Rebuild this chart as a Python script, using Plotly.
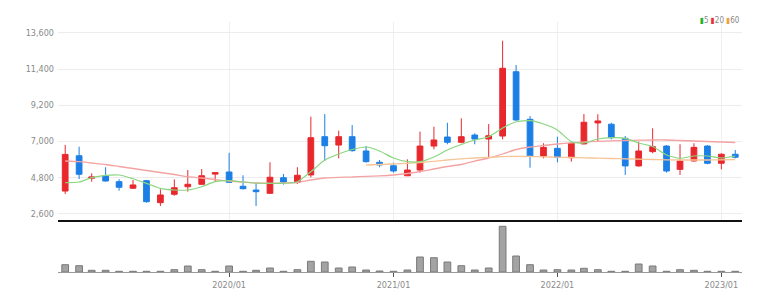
import plotly.graph_objects as go
import pandas as pd

# ---- data (monthly, 2019/01 .. 2023/02) ----
months = pd.date_range("2019-01-01", "2023-02-01", freq="MS").strftime("%Y-%m-%d").tolist()

open_ = [3970, 6120, 4750, 4890, 4540, 4140, 4600, 3260, 3770, 4230,
         4380, 5000, 5130, 4260, 4030, 3830, 4780, 4500, 4950, 7280,
         6770, 7280, 6410, 5720, 5510, 4900, 5250, 6710, 7260, 6940,
         7380, 7140, 7320, 11240, 8340, 6100, 6570, 6000, 6840, 8120,
         8040, 7180, 5500, 6370, 6710, 5290, 5800, 6710, 5660, 6210]
high = [6780, 6670, 5050, 5420, 4690, 4640, 4640, 4075, 4680, 5250,
        5310, 5100, 6300, 4930, 4480, 5720, 5010, 5420, 8500, 8660,
        7650, 7990, 6710, 5860, 5700, 5900, 7590, 7890, 8130, 8400,
        7490, 8050, 13130, 11650, 8540, 6880, 7280, 6920, 8660, 8650,
        8130, 7320, 6980, 7790, 6770, 6820, 6880, 6770, 6270, 6470]
low = [3790, 4700, 4540, 4540, 3990, 4090, 3260, 3060, 3680, 3930,
       4340, 4520, 4480, 4070, 3060, 3790, 4360, 4400, 4800, 5800,
       5960, 6370, 5700, 5420, 5090, 4880, 5090, 6510, 6820, 6880,
       6820, 6000, 7120, 8250, 5390, 5960, 5720, 5760, 6820, 6980,
       7120, 4950, 5450, 6270, 5090, 4950, 5760, 5600, 5290, 5960]
close = [6200, 4990, 4830, 4580, 4200, 4340, 3320, 3730, 4170, 4380,
         4900, 5090, 4500, 4110, 3930, 4810, 4520, 4930, 7220, 6730,
         7280, 6430, 5760, 5560, 5190, 5250, 6710, 7080, 6940, 7280,
         7140, 7340, 11450, 8300, 6100, 6630, 6030, 6880, 8160, 8240,
         7220, 5500, 6410, 6670, 5190, 5800, 6630, 5660, 6210, 6030]

ma5 = [4477, 4520, 4782, 4928, 4946, 4721, 4440, 4136, 4032, 4032,
       4233, 4538, 4599, 4520, 4459, 4440, 4440, 4538, 5147, 5860,
       6226, 6500, 6652, 6409, 5982, 5757, 5757, 6043, 6470, 6805,
       7079, 7280, 7811, 8194, 8255, 8054, 7689, 6976, 6896, 7140,
       7219, 7183, 6896, 6683, 6165, 5964, 6104, 6104, 5982, 6104]
ma20 = [5800, 5757, 5677, 5586, 5464, 5342, 5220, 5099, 4977, 4843,
        4763, 4672, 4581, 4520, 4459, 4440, 4459, 4489, 4642, 4763,
        4806, 4824, 4867, 4897, 4946, 5037, 5159, 5312, 5464, 5586,
        5799, 5982, 6226, 6500, 6652, 6744, 6835, 6908, 6957, 7000,
        7030, 7049, 7067, 7079, 7079, 7049, 7018, 6988, 6957, 6927]
ma60 = [None] * 22 + [
        5556, 5586, 5617, 5659, 5708, 5781, 5860, 5933, 5982, 6025,
        6062, 6086, 6074, 6055, 6031, 6013, 5994, 5970, 5952, 5933,
        5909, 5890, 5872, 5860, 5860, 5860, 5872, 5890]

volume = [730000, 630000, 170000, 170000, 70000, 70000, 70000, 70000, 230000, 600000,
          230000, 70000, 600000, 70000, 170000, 400000, 70000, 230000, 1070000, 1000000,
          400000, 500000, 200000, 100000, 70000, 200000, 1500000, 1430000, 1000000, 630000,
          200000, 400000, 4570000, 1600000, 730000, 200000, 230000, 200000, 370000, 230000,
          70000, 70000, 800000, 600000, 70000, 230000, 170000, 70000, 70000, 70000]

price_ticks = [2600, 4800, 7000, 9200, 11400, 13600]
year_ticks = ["2020-01-01", "2021-01-01", "2022-01-01", "2023-01-01"]
year_labels = ["2020/01", "2021/01", "2022/01", "2023/01"]

RED = "#e8282d"
BLUE = "#1c7fe6"
FONT = "Liberation Sans Narrow, Arial Narrow, DejaVu Sans Condensed, sans-serif"

fig = go.Figure()

fig.add_trace(go.Candlestick(
    x=months, open=open_, high=high, low=low, close=close,
    increasing=dict(line=dict(color=RED, width=1), fillcolor=RED),
    decreasing=dict(line=dict(color=BLUE, width=1), fillcolor=BLUE),
    whiskerwidth=0, showlegend=False, xaxis="x", yaxis="y"))

fig.add_trace(go.Scatter(x=months, y=ma20, mode="lines", showlegend=False,
                         line=dict(color="#f4a3a3", width=1.3, shape="spline", smoothing=0.6),
                         xaxis="x", yaxis="y"))
fig.add_trace(go.Scatter(x=months, y=ma60, mode="lines", showlegend=False,
                         line=dict(color="#f8c597", width=1.3, shape="spline", smoothing=0.6),
                         xaxis="x", yaxis="y"))
fig.add_trace(go.Scatter(x=months, y=ma5, mode="lines", showlegend=False,
                         line=dict(color="#8ad67f", width=1.2, shape="spline", smoothing=0.6),
                         xaxis="x", yaxis="y"))

fig.add_trace(go.Bar(x=months, y=volume, width=15 * 86400000,
                     marker=dict(color="#a3a3a3", line=dict(color="#7a7a7a", width=1)),
                     showlegend=False, xaxis="x2", yaxis="y2"))

xr = ["2018-12-16", "2023-02-16"]
fig.update_layout(
    width=778, height=306,
    margin=dict(l=58, r=36, t=22, b=34),
    paper_bgcolor="white", plot_bgcolor="white",
    boxgap=0.35,
    font=dict(family=FONT, size=9, color="#888"),
    xaxis=dict(domain=[0, 1], anchor="y", range=xr, type="date",
               tickvals=year_ticks, showticklabels=False,
               showgrid=True, gridcolor="#efefef", gridwidth=1,
               showline=True, linecolor="#111", linewidth=2, ticks="",
               rangeslider=dict(visible=False), zeroline=False),
    yaxis=dict(domain=[0.208, 1], anchor="x", range=[2204, 14270],
               tickvals=price_ticks, tickformat=",", showgrid=True,
               gridcolor="#ececec", gridwidth=1, zeroline=False, ticks="",
               ticklabelstandoff=3, tickfont=dict(family=FONT, size=9, color="#8a8a8a")),
    xaxis2=dict(domain=[0, 1], anchor="y2", range=xr, type="date",
                tickvals=year_ticks, ticktext=year_labels,
                showgrid=False, showline=True, linecolor="#9a9a9a", linewidth=1,
                ticks="outside", ticklen=4, tickcolor="#555",
                tickfont=dict(family=FONT, size=9, color="#8a8a8a"), zeroline=False),
    yaxis2=dict(domain=[0, 0.188], anchor="x2", range=[0, 4700000],
                showticklabels=False, showgrid=False, zeroline=False, ticks=""),
    annotations=[dict(
        xref="paper", yref="paper", x=1, y=1.006, xanchor="right", yanchor="middle",
        showarrow=False, font=dict(family=FONT, size=8, color="#888"),
        text=("<span style='color:#22b22c'>▮</span>5 "
              "<span style='color:#e83030'>▮</span>20 "
              "<span style='color:#f0a040'>▮</span>60"))],
)

fig.write_html("out.html")
